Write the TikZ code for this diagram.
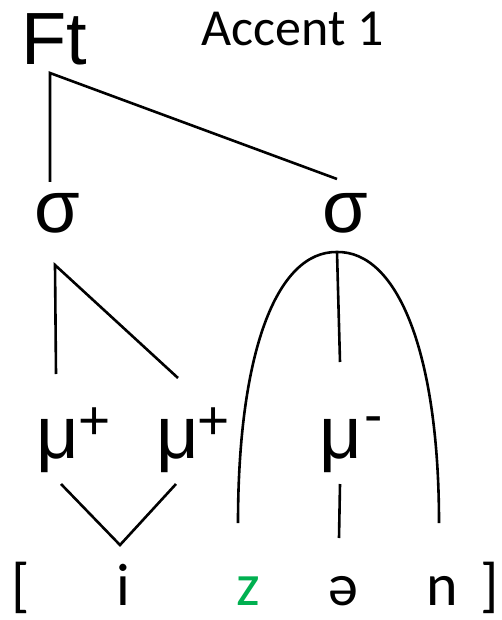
\documentclass[tikz,border=0pt]{standalone}
\usepackage{fontspec}
\setmainfont{Liberation Sans}
\newfontfamily\calfont{Carlito}
\definecolor{zgreen}{HTML}{00B050}
\begin{document}
\begin{tikzpicture}[x=1pt,y=-1pt,
  big/.style={font=\fontsize{74}{80}\selectfont, inner sep=0pt, anchor=base},
  supmark/.style={font=\fontsize{55}{60}\selectfont, inner sep=0pt, anchor=base},
  seg/.style={font=\calfont\fontsize{60}{66}\selectfont, inner sep=0pt, anchor=base},
  title/.style={font=\calfont\fontsize{52}{58}\selectfont, inner sep=0pt, anchor=base west},
  lnk/.style={line width=2.6pt, line cap=butt}]
\useasboundingbox (0,0) rectangle (501,620);

% texts
\node[big, anchor=base west] (Ft) at (21,65) {Ft};
\node[title] (acc) at (201,46) {Accent 1};
\node[big] (s1) at (57.5,233) {σ};
\node[big] (s2) at (345,233) {σ};
\node[big] (m1) at (58,458) {μ};
\node[supmark] (p1) at (95,439) {+};
\node[big] (m2) at (177.5,458) {μ};
\node[supmark] (p2) at (214,439) {+};
\node[big] (m3) at (340.5,458) {μ};
\node[supmark] (p3) at (373.5,433) {-};
\node[seg] (lb) at (21,605) {[};
\node[seg] (i) at (123,605) {i};
\node[seg, text=zgreen] (z) at (248,605) {z};
\node[seg] (schwa) at (343,605) {ə};
\node[seg] (n) at (442.5,605) {n};
\node[seg] (rb) at (490,605) {]};

% connector points
\coordinate (ftv) at (50,73);
\coordinate (s1top) at (50,182);
\coordinate (s2top) at (337,179);
\coordinate (s1v) at (55,265);
\coordinate (m1top) at (56,374);
\coordinate (m2top) at (178,378);
\coordinate (s2v) at (337,252);
\coordinate (m3top) at (340,362);
\coordinate (m1bot) at (61,484);
\coordinate (m2bot) at (176,484);
\coordinate (itop) at (120,545);
\coordinate (m3bot) at (340,484);
\coordinate (schwatop) at (339,538);
\coordinate (ztop) at (238,523);
\coordinate (ntop) at (439,523);

\draw[lnk] (s1top) -- (ftv) -- (s2top);
\draw[lnk] (m1top) -- (s1v) -- (m2top);
\draw[lnk] (s2v) -- (m3top);
\draw[lnk] (m1bot) -- (itop) -- (m2bot);
\draw[lnk] (m3bot) -- (schwatop);
\draw[lnk] (ztop) .. controls (238,354) and (276,251) .. (s2v)
  .. controls (398,251) and (439,354) .. (ntop);
\end{tikzpicture}
\end{document}
